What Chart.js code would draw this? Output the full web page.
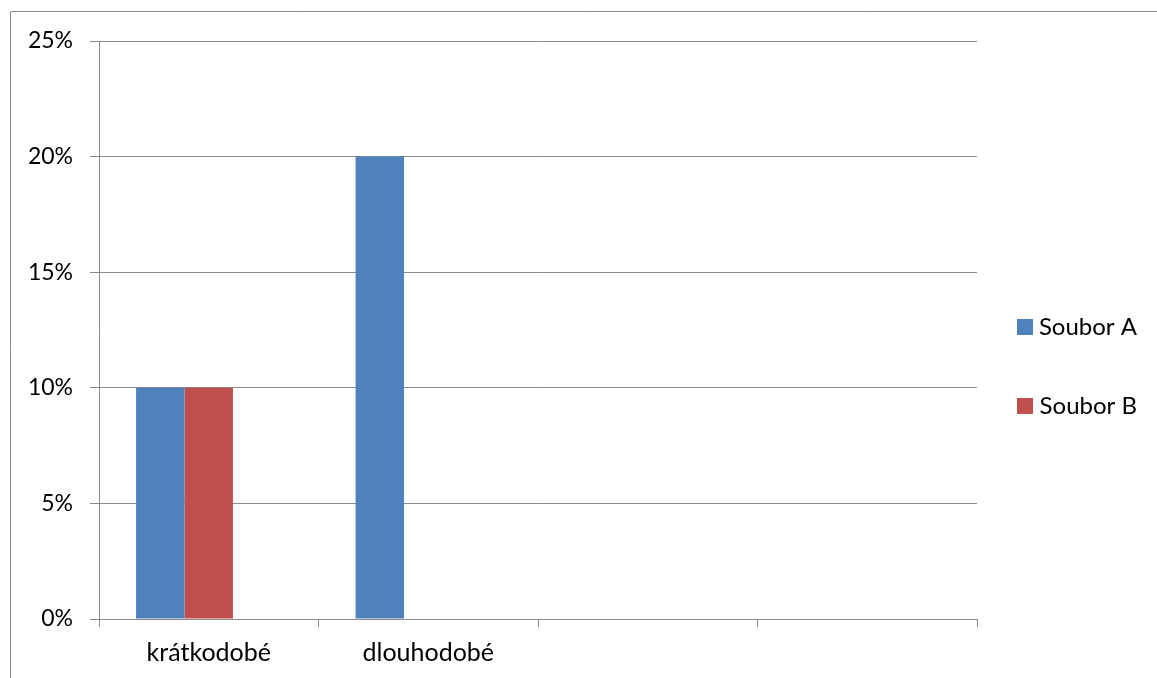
<!DOCTYPE html>
<html>
<head>
<meta charset="utf-8">
<script src="https://cdn.jsdelivr.net/npm/chart.js@4/dist/chart.umd.min.js"></script>
<style>
  html, body { margin: 0; padding: 0; background: #ffffff; }
  #wrap { width: 1157px; height: 678px; position: relative; }
</style>
</head>
<body>
<div id="wrap"><canvas id="c" width="1157" height="678"></canvas></div>
<script>
// ---- data ----
const categories = ['krátkodobé', 'dlouhodobé', '', ''];
const seriesNames = ['Soubor A', 'Soubor B', ''];
const souborA = [0.10, 0.20, null, null];
const souborB = [0.10, null, null, null];
const souborC = [null, null, null, null];
const yTicks = [0, 0.05, 0.10, 0.15, 0.20, 0.25];

const FONT = 'Lato, "Open Sans", sans-serif';
const GRID = '#898989';

const framePlugin = {
  id: 'frame',
  beforeDraw(chart) {
    const ctx = chart.ctx;
    ctx.save();
    ctx.strokeStyle = '#8a8a8a';
    ctx.lineWidth = 1;
    ctx.beginPath();
    ctx.moveTo(10.5, 700);
    ctx.lineTo(10.5, 11.5);
    ctx.lineTo(1200, 11.5);
    ctx.stroke();
    ctx.restore();
  }
};

new Chart(document.getElementById('c'), {
  type: 'bar',
  data: {
    labels: categories,
    datasets: [
      { label: seriesNames[0], data: souborA, backgroundColor: '#4F81BD', borderWidth: 0 },
      { label: seriesNames[1], data: souborB, backgroundColor: '#C0504D', borderWidth: 0 },
      { label: seriesNames[2], data: souborC, backgroundColor: '#9BBB59', borderWidth: 0 }
    ]
  },
  options: {
    responsive: false,
    animation: false,
    devicePixelRatio: 1,
    layout: { padding: { top: 41, right: 20, bottom: 0, left: 0 } },
    datasets: { bar: { categoryPercentage: 0.662, barPercentage: 1.0 } },
    plugins: {
      tooltip: { enabled: false },
      legend: {
        position: 'right',
        align: 'start',
        maxWidth: 160,
        title: { display: true, text: '', font: { size: 10, lineHeight: 1 }, padding: { top: 224, bottom: 0 } },
        labels: {
          boxWidth: 16,
          boxHeight: 16,
          padding: 40,
          color: '#000000',
          textAlign: 'right',
          font: { family: FONT, size: 24, lineHeight: 39 / 24 },
          generateLabels: (chart) => chart.data.datasets.map((ds, i) => ({
            text: [ds.label],
            fillStyle: ds.backgroundColor,
            strokeStyle: ds.backgroundColor,
            fontColor: '#000000',
            lineWidth: 0,
            hidden: false,
            datasetIndex: i
          })).filter(it => it.text[0] !== '')
        }
      }
    },
    scales: {
      x: {
        offset: true,
        grid: { display: true, offset: true, drawOnChartArea: false, drawTicks: true, tickLength: 8, color: GRID, lineWidth: 1 },
        border: { display: true, color: GRID, width: 1 },
        ticks: { color: '#000000', font: { family: FONT, size: 25 }, padding: 11, maxRotation: 0, autoSkip: false },
        afterFit: (s) => { s.height = 59; }
      },
      y: {
        min: 0,
        max: 0.25,
        afterBuildTicks: (s) => { s.ticks = yTicks.map(v => ({ value: v })); },
        grid: { display: true, drawOnChartArea: true, drawTicks: true, tickLength: 9, color: GRID, lineWidth: 1 },
        border: { display: true, color: GRID, width: 1 },
        ticks: {
          color: '#000000',
          font: { family: FONT, size: 23 },
          padding: 17,
          callback: (v) => Math.round(v * 100) + '%'
        },
        afterFit: (s) => { s.width = 99; }
      }
    }
  },
  plugins: [framePlugin]
});
</script>
</body>
</html>
